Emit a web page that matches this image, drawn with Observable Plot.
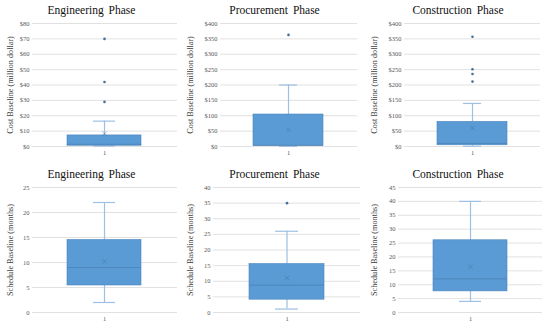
<!DOCTYPE html>
<html>
<head>
<meta charset="utf-8">
<script src="https://cdn.jsdelivr.net/npm/d3@7"></script>
<script src="https://cdn.jsdelivr.net/npm/@observablehq/plot@0.6"></script>
<style>
  html, body { margin: 0; padding: 0; background: #fff; }
  #grid { display: grid; grid-template-columns: 183px 183px 184px; grid-template-rows: 164px 164px; width: 550px; height: 328px; }
  .cell { position: relative; overflow: visible; }
  .title { height: 20px; line-height: 20px; text-align: center; font-family: "Liberation Serif", "Times New Roman", serif; font-size: 11.5px; word-spacing: 2px; color: #111; }
  svg { overflow: visible; display: block; }
</style>
</head>
<body>
<div id="grid"></div>
<script>
const phases = ["Engineering Phase", "Procurement Phase", "Construction Phase"];

// Cost baseline (million dollar)
const costMin = [0.3, 0.5, 1];
const costQ1 = [0.5, 2, 4];
const costMedian = [1.5, 4, 10];
const costQ3 = [7.2, 104, 80];
const costMax = [16.5, 200, 140];
const costMean = [8.3, 55, 60];
const costOutliers = [[29, 42, 70], [363], [211, 236, 251, 357]];
const costTicks = [
  [0, 10, 20, 30, 40, 50, 60, 70, 80],
  [0, 50, 100, 150, 200, 250, 300, 350, 400],
  [0, 50, 100, 150, 200, 250, 300, 350, 400]
];
const costTickLabels = [
  ["$0", "$10", "$20", "$30", "$40", "$50", "$60", "$70", "$80"],
  ["$0", "$50", "$100", "$150", "$200", "$250", "$300", "$350", "$400"],
  ["$0", "$50", "$100", "$150", "$200", "$250", "$300", "$350", "$400"]
];

// Schedule baseline (months)
const scheduleMin = [2, 1.1, 4];
const scheduleQ1 = [5.4, 4.1, 7.6];
const scheduleMedian = [9, 8.75, 12.1];
const scheduleQ3 = [14.5, 15.5, 26];
const scheduleMax = [22, 26, 40];
const scheduleMean = [10.2, 11.1, 16.5];
const scheduleOutliers = [[], [35], []];
const scheduleTicks = [
  [0, 5, 10, 15, 20, 25],
  [0, 5, 10, 15, 20, 25, 30, 35, 40],
  [0, 5, 10, 15, 20, 25, 30, 35, 40, 45]
];
const scheduleTickLabels = scheduleTicks.map(t => t.map(String));

const category = ["1"];
const costLabel = "Cost Baseline (million dollar)";
const scheduleLabel = "Schedule Baseline (months)";

const layout = [
  // top row
  {ml: 32, mr: 6, mb: 18, dx: -22, w: 183},
  {ml: 37, mr: 9, mb: 18, dx: -30, w: 183},
  {ml: 38, mr: 10, mb: 18, dx: -30, w: 184},
  // bottom row
  {ml: 32, mr: 6, mb: 16, dx: -22, w: 183},
  {ml: 30, mr: 6, mb: 16, dx: -23, w: 183},
  {ml: 32, mr: 8, mb: 16, dx: -24, w: 184}
];

const boxFill = "#5b9bd5";
const boxStroke = "#4a84bb";
const whiskerColor = "#9dc0e3";
const dotColor = "#41719c";

function panel(i, k, stats, ticks, tickLabels, label) {
  const L = layout[i];
  const row = [stats];
  const out = stats.outliers.map(v => ({x: category[0], v}));
  const cell = document.createElement("div");
  cell.className = "cell";
  const t = document.createElement("div");
  t.className = "title";
  t.textContent = phases[k];
  cell.appendChild(t);
  const chart = Plot.plot({
    width: L.w,
    height: 144,
    marginTop: 3,
    marginBottom: L.mb,
    marginLeft: L.ml,
    marginRight: L.mr,
    style: {fontFamily: "Liberation Serif, serif", fontSize: "6.5px", color: "#595959", background: "transparent"},
    x: {domain: category, padding: 0.32, axis: null},
    y: {domain: [0, ticks[ticks.length - 1]], axis: null},
    marks: [
      Plot.gridY(ticks, {stroke: "#d9d9d9", strokeOpacity: 1, strokeWidth: 0.8}),
      Plot.axisY(ticks, {tickSize: 0, tickPadding: 3, tickFormat: (d) => tickLabels[ticks.indexOf(d)], label: null, fill: "#595959"}),
      Plot.axisX({tickSize: 0, tickPadding: 4, label: null, fill: "#595959"}),
      Plot.text([label], {frameAnchor: "left", textAnchor: "middle", rotate: -90, dx: L.dx, fontSize: 8.2, fill: "#404040"}),
      Plot.ruleX(row, {x: () => category[0], y1: "q3", y2: "max", stroke: whiskerColor, strokeWidth: 1.2}),
      Plot.ruleX(row, {x: () => category[0], y1: "min", y2: "q1", stroke: whiskerColor, strokeWidth: 1.2}),
      Plot.tickY(row, {x: () => category[0], y: "max", stroke: whiskerColor, strokeWidth: 1.2, insetLeft: 26, insetRight: 26}),
      Plot.tickY(row, {x: () => category[0], y: "min", stroke: whiskerColor, strokeWidth: 1.2, insetLeft: 26, insetRight: 26}),
      Plot.barY(row, {x: () => category[0], y1: "q1", y2: "q3", fill: boxFill, stroke: boxStroke, strokeWidth: 0.6}),
      Plot.tickY(row, {x: () => category[0], y: "median", stroke: "#3f6f9e", strokeOpacity: 0.55, strokeWidth: 0.8}),
      Plot.dot(row, {x: () => category[0], y: "mean", symbol: "times", r: 2.2, stroke: "#3f6f9e", strokeOpacity: 0.6, strokeWidth: 0.8}),
      Plot.dot(out, {x: "x", y: "v", r: 1.3, fill: dotColor, stroke: "none"})
    ]
  });
  cell.appendChild(chart);
  return cell;
}

const grid = document.getElementById("grid");
for (let k = 0; k < 3; k++) {
  grid.appendChild(panel(k, k, {
    min: costMin[k], q1: costQ1[k], median: costMedian[k], q3: costQ3[k], max: costMax[k],
    mean: costMean[k], outliers: costOutliers[k]
  }, costTicks[k], costTickLabels[k], costLabel));
}
for (let k = 0; k < 3; k++) {
  grid.appendChild(panel(3 + k, k, {
    min: scheduleMin[k], q1: scheduleQ1[k], median: scheduleMedian[k], q3: scheduleQ3[k], max: scheduleMax[k],
    mean: scheduleMean[k], outliers: scheduleOutliers[k]
  }, scheduleTicks[k], scheduleTickLabels[k], scheduleLabel));
}
</script>
</body>
</html>
